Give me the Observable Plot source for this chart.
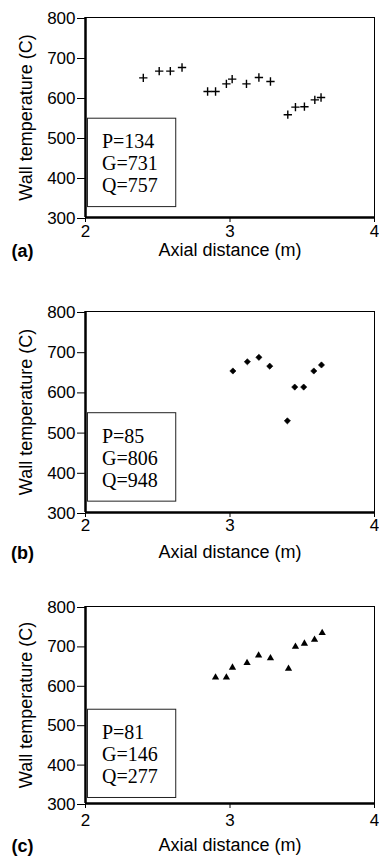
<!DOCTYPE html>
<html><head><meta charset="utf-8">
<script src="https://cdn.jsdelivr.net/npm/d3@7"></script>
<script src="https://cdn.jsdelivr.net/npm/@observablehq/plot@0.6"></script>
<style>
html,body{margin:0;padding:0;background:#fff;}
#chart{width:379px;overflow:hidden;}
#chart svg{display:block;}
</style></head><body><div id="chart"></div>
<script>
// ---- data ----
const xTicks = [2, 3, 4];
const yTicks = [300, 400, 500, 600, 700, 800];
const xLabel = "Axial distance (m)";
const yLabel = "Wall temperature (C)";
const panelLabels = ["(a)", "(b)", "(c)"];
const legendTexts = ["P=134\nG=731\nQ=757", "P=85\nG=806\nQ=948", "P=81\nG=146\nQ=277"];

const aX = [2.40, 2.51, 2.587, 2.668, 2.845, 2.90, 2.975, 3.015, 3.114, 3.20, 3.28, 3.40, 3.453, 3.515, 3.587, 3.63];
const aY = [649, 666, 666, 675, 615, 615, 634, 646, 634, 650, 640, 557, 576, 577, 594, 600];

const bX = [3.02, 3.12, 3.20, 3.275, 3.397, 3.448, 3.51, 3.58, 3.633];
const bY = [652, 675, 686, 664, 528, 612, 612, 652, 667];

const cX = [2.90, 2.975, 3.017, 3.118, 3.198, 3.28, 3.405, 3.453, 3.515, 3.585, 3.638];
const cY = [620, 620, 645, 657, 676, 669, 642, 698, 706, 716, 733];

// ---- layout ----
const SANS = "'Liberation Sans', Arial, sans-serif";
const SERIF = "'Liberation Serif', 'Times New Roman', serif";

const panels = [
  {x: aX, y: aY, symbol: "plus", r: 2.8, fill: "none", stroke: "black", sw: 1.4,
   height: 285, mt: 17, mb: 68, xTickPad: 2, xLabelDy: 33, box: {x1: 2.017, x2: 2.628, y1: 326, y2: 547}},
  {x: bX, y: bY, symbol: "diamond2", r: 2.8, fill: "black", stroke: "black", sw: 0.6,
   height: 285, mt: 26, mb: 58, xTickPad: 1, xLabelDy: 40, box: {x1: 2.017, x2: 2.628, y1: 327, y2: 547}},
  {x: cX, y: cY, symbol: "triangle", r: 2.7, fill: "black", stroke: "none", sw: 0,
   height: 286, mt: 36, mb: 53, xTickPad: 5, xLabelDy: 42, box: {x1: 2.017, x2: 2.628, y1: 314, y2: 538}}
];

const chart = document.getElementById("chart");

panels.forEach((p, i) => {
  const data = p.x.map((d, j) => ({x: d, y: p.y[j]}));
  const svg = Plot.plot({
    width: 379,
    height: p.height,
    marginLeft: 85,
    marginRight: 5,
    marginTop: p.mt,
    marginBottom: p.mb,
    style: {fontFamily: SANS, fontSize: "17px", color: "black", background: "white"},
    x: {domain: [2, 4]},
    y: {domain: [300, 800]},
    marks: [
      Plot.frame({stroke: "black", strokeWidth: 1}),
      Plot.ruleX([2], {stroke: "black", strokeWidth: 2.5}),
      Plot.ruleY([300], {stroke: "black", strokeWidth: 2.5}),
      Plot.axisY({ticks: yTicks, tickSize: 8, tickPadding: 2, label: null, fontSize: 17, dy: 1}),
      Plot.axisX({ticks: xTicks, tickSize: 5, tickPadding: p.xTickPad, label: null, fontSize: 17, tickFormat: d => String(d)}),
      Plot.rect([p.box], {x1: "x1", x2: "x2", y1: "y1", y2: "y2", fill: "none", stroke: "#222", strokeWidth: 1}),
      Plot.text([legendTexts[i]], {x: () => p.box.x1, y: () => p.box.y2, text: d => d, dx: 14, dy: 14,
        textAnchor: "start", lineAnchor: "top", lineHeight: 1.1, fontFamily: SERIF, fontSize: 20}),
      Plot.dot(data, {x: "x", y: "y", symbol: p.symbol, r: p.r, fill: p.fill, stroke: p.stroke, strokeWidth: p.sw}),
      Plot.text([xLabel], {frameAnchor: "bottom", text: d => d, dy: p.xLabelDy, lineAnchor: "middle", textAnchor: "middle", fontSize: 18}),
      Plot.text([panelLabels[i]], {frameAnchor: "bottom-left", text: d => d, dx: -63, dy: p.xLabelDy + 1,
        lineAnchor: "middle", textAnchor: "middle", fontSize: 18, fontWeight: "bold"}),
      Plot.text([yLabel], {frameAnchor: "left", text: d => d, dx: -59, rotate: -90, lineAnchor: "middle", textAnchor: "middle", fontSize: 18})
    ]
  });
  chart.appendChild(svg);
});
</script>
</body></html>
